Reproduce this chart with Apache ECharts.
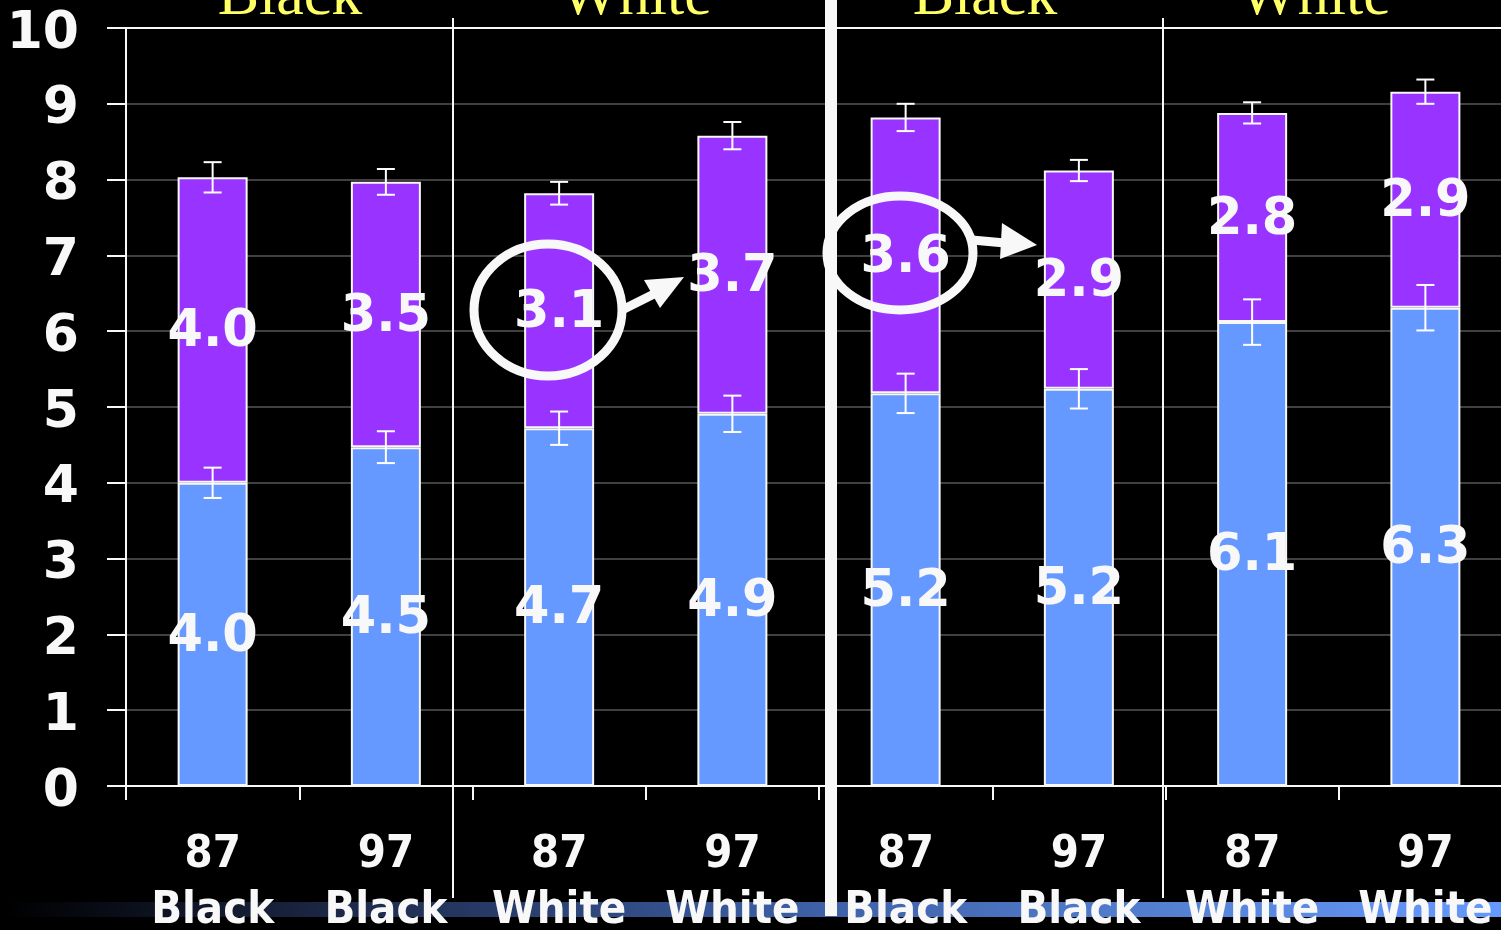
<!DOCTYPE html>
<html>
<head>
<meta charset="utf-8">
<script src="https://cdn.jsdelivr.net/npm/echarts@6/dist/echarts.min.js"></script>
<style>
  html, body { margin: 0; padding: 0; background: #000; }
  #container { width: 1501px; height: 930px; }
</style>
</head>
<body>
<div id="container"></div>
<script>
  // data
  const years = ['87', '97', '87', '97', '87', '97', '87', '97'];
  const groups = ['Black', 'Black', 'White', 'White', 'Black', 'Black', 'White', 'White'];
  const lowerValues = [4.0, 4.47, 4.72, 4.91, 5.18, 5.24, 6.12, 6.31];
  const upperValues = [4.03, 3.5, 3.1, 3.67, 3.64, 2.88, 2.76, 2.85];
  const lowerErr = [0.2, 0.21, 0.22, 0.24, 0.26, 0.26, 0.3, 0.3];
  const upperErr = [0.2, 0.17, 0.15, 0.18, 0.18, 0.14, 0.14, 0.16];
  const panelTitles = ['Black', 'White', 'Black', 'White'];

  const categories = years.map((y, i) => y + '\n' + groups[i]);

  // error bar points: [category index, y centre, half width]
  const errData = [];
  lowerValues.forEach((v, i) => {
    errData.push([i, v, lowerErr[i]]);
    errData.push([i, v + upperValues[i], upperErr[i]]);
  });

  function renderErr(params, api) {
    const x = api.value(0), c = api.value(1), e = api.value(2);
    const hi = api.coord([x, c + e]);
    const lo = api.coord([x, c - e]);
    const w = 9;
    const st = { stroke: '#fff', lineWidth: 2 };
    return {
      type: 'group',
      children: [
        { type: 'line', shape: { x1: hi[0], y1: hi[1], x2: lo[0], y2: lo[1] }, style: st },
        { type: 'line', shape: { x1: hi[0] - w, y1: hi[1], x2: hi[0] + w, y2: hi[1] }, style: st },
        { type: 'line', shape: { x1: lo[0] - w, y1: lo[1], x2: lo[0] + w, y2: lo[1] }, style: st }
      ]
    };
  }

  const barLabel = {
    show: true,
    position: 'inside',
    offset: [0, 3],
    color: '#f8f8f8',
    fontFamily: 'DejaVu Sans',
    fontWeight: 'bold',
    fontSize: 51,
    textShadowColor: 'rgba(120,120,120,0.6)',
    textShadowOffsetX: 2,
    textShadowOffsetY: 2,
    formatter: p => p.value.toFixed(1)
  };

  const titleX = [290, 636, 985, 1315];
  const white = '#f8f8f8';

  let mychart = echarts.init(document.getElementById('container'));

  var option = {
    backgroundColor: '#000',
    animation: false,
    grid: { left: 126, top: 28, width: 1386, height: 758, outerBoundsMode: 'none' },
    xAxis: [
      {
        type: 'category',
        data: categories,
        z: 20,
        axisLine: { lineStyle: { color: white, width: 2 } },
        axisTick: { show: true, length: 14, lineStyle: { color: white, width: 2 } },
        axisLabel: {
          color: white,
          fontFamily: 'DejaVu Sans Condensed',
          fontWeight: 'bold',
          fontSize: 45,
          lineHeight: 56,
          margin: 41,
          interval: 0
        }
      },
      {
        type: 'category',
        position: 'top',
        data: categories,
        axisLine: { lineStyle: { color: white, width: 2 } },
        axisTick: { show: false },
        axisLabel: { show: false }
      }
    ],
    yAxis: {
      type: 'value',
      min: 0,
      max: 10,
      interval: 1,
      axisLine: { show: true, lineStyle: { color: white, width: 2 } },
      axisTick: { show: true, length: 19, lineStyle: { color: white, width: 2 } },
      splitLine: { lineStyle: { color: '#404040', width: 2 } },
      axisLabel: {
        margin: 47,
        formatter: v => '{n|' + v + '}',
        rich: {
          n: {
            color: white,
            fontFamily: 'DejaVu Sans',
            fontWeight: 'bold',
            fontSize: 52,
            padding: [12, 0, 0, 0]
          }
        }
      }
    },
    series: [
      {
        type: 'bar',
        stack: 'total',
        barWidth: 70,
        data: lowerValues,
        itemStyle: { color: '#6699ff', borderColor: white, borderWidth: 2 },
        label: barLabel
      },
      {
        type: 'bar',
        stack: 'total',
        barWidth: 70,
        data: upperValues,
        itemStyle: { color: '#9933ff', borderColor: white, borderWidth: 2 },
        label: barLabel
      },
      {
        type: 'custom',
        renderItem: renderErr,
        data: errData,
        z: 10
      }
    ],
    graphic: [
      // bottom gradient strip
      {
        type: 'rect', z: -1,
        shape: { x: 5, y: 902, width: 1496, height: 15 },
        style: {
          fill: new echarts.graphic.LinearGradient(0, 0, 1, 0, [
            { offset: 0, color: '#000000' },
            { offset: 0.2, color: '#1a2440' },
            { offset: 0.5, color: '#3a5a9e' },
            { offset: 0.8, color: '#5683d6' },
            { offset: 1, color: '#6699ff' }
          ])
        }
      },
      // panel separators
      { type: 'rect', z: 50, shape: { x: 452, y: 18, width: 2, height: 880 }, style: { fill: white } },
      { type: 'rect', z: 50, shape: { x: 1162, y: 18, width: 2, height: 880 }, style: { fill: white } },
      { type: 'rect', z: 50, shape: { x: 825, y: 0, width: 12, height: 916 }, style: { fill: white } },
      // annotations
      { type: 'ellipse', z: 60, shape: { cx: 548, cy: 310, rx: 74, ry: 66 }, style: { fill: null, stroke: white, lineWidth: 9 } },
      { type: 'line', z: 60, shape: { x1: 622, y1: 310, x2: 658, y2: 292 }, style: { stroke: white, lineWidth: 9 } },
      { type: 'polygon', z: 60, shape: { points: [[684, 277], [644, 280], [660, 308]] }, style: { fill: white } },
      { type: 'ellipse', z: 60, shape: { cx: 900, cy: 253, rx: 73, ry: 57 }, style: { fill: null, stroke: white, lineWidth: 9 } },
      { type: 'line', z: 60, shape: { x1: 972, y1: 240, x2: 1005, y2: 243 }, style: { stroke: white, lineWidth: 9 } },
      { type: 'polygon', z: 60, shape: { points: [[1037, 245], [1002, 223], [1000, 259]] }, style: { fill: white } }
    ].concat(panelTitles.map((t, i) => ({
      type: 'text', z: 60,
      x: titleX[i], y: 29,
      style: {
        text: t,
        fill: '#ffff66',
        font: '62px "Liberation Serif"',
        textAlign: 'center',
        textVerticalAlign: 'bottom'
      }
    })))
  };

  mychart.setOption(option);
</script>
</body>
</html>
